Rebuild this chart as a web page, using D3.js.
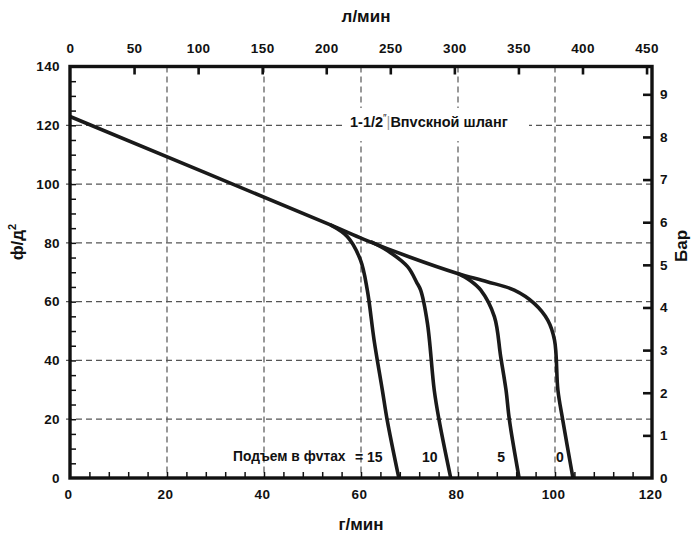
<!DOCTYPE html>
<html><head><meta charset="utf-8">
<script src="https://cdn.jsdelivr.net/npm/d3@7"></script>
<style>
body{margin:0;background:#fff}
svg text{font-family:"Liberation Sans",Arial,Helvetica,sans-serif;font-weight:bold;fill:#111}
</style>
</head><body><svg id="c" width="693" height="537"></svg>
<script>
// ---- data ----
const gpmTicks = [0, 20, 40, 60, 80, 100, 120];
const gpmMinorTicks = [4,8,12,16,20,24,28,32,36,40,44,48,52,56,60,64,68,72,76,80,84,88,92,96,100,104,108,112,116];
const psiTicks = [0, 20, 40, 60, 80, 100, 120, 140];
const psiMinorTicks = [5,10,15,20,25,30,35,40,45,50,55,60,65,70,75,80,85,90,95,100,105,110,115,120,125,130,135];
const lpmTicks = [0, 50, 100, 150, 200, 250, 300, 350, 400, 450];
const lpmMarks = [50, 100, 150, 200, 250, 300, 350, 400, 450];
const barTicks = [0, 1, 2, 3, 4, 5, 6, 7, 8, 9];
const gridGpm = [20, 40, 60, 80, 100];
const gridPsi = [20, 40, 60, 80, 100, 120];

// lift curves (gpm, psi)
const lift0Gpm  = [0, 53.7, 60.6, 70, 79.9, 86, 91.6, 95.7, 98.5, 99.9, 100.6, 101.6, 103.7];
const lift0Psi  = [123, 86.1, 81.2, 75.2, 69.6, 66.8, 63.9, 59.4, 53.7, 46.9, 29.9, 19.7, 0];
const lift15Gpm = [53.7, 57.2, 59.9, 61.3, 62.7, 64.4, 65.4, 67.8];
const lift15Psi = [86.1, 82.1, 74.1, 63.9, 46.9, 29.9, 19.7, 0];
const lift10Gpm = [62, 65.5, 69.6, 71.5, 72.3, 73.7, 75.1, 76.1, 78.5];
const lift10Psi = [80.4, 77.3, 71.9, 66.5, 63.9, 52.6, 29.9, 19.7, 0];
const lift5Gpm  = [79.9, 82.5, 84.7, 87.5, 88.8, 89.9, 90.6, 92.6];
const lift5Psi  = [69.6, 67.2, 63.9, 54.9, 41.3, 29.9, 19.7, 0];

const liftLabels = ["= 15", "10", "5", "0"];
const liftLabelGpm = [61.6, 74.2, 88.9, 101];

// ---- chart ----
const svg = d3.select("#c");
const L = 70, R = 652, T = 66.5, B = 478;
const x = d3.scaleLinear().domain([0, 120]).range([L, R]);
const y = d3.scaleLinear().domain([0, 140]).range([B, T]);
const xL = d3.scaleLinear().domain([0, 120 * 3.78541]).range([L, R]);
const yB = d3.scaleLinear().domain([0, 140 / 14.5038]).range([B, T]);

// grid
const grid = svg.append("g").attr("stroke", "#555").attr("stroke-width", 1.2).attr("stroke-dasharray", "6,4");
grid.selectAll("line.h").data(gridPsi).join("line").attr("class","h")
  .attr("x1", L - 4).attr("x2", R).attr("y1", d => y(d)).attr("y2", d => y(d));
grid.selectAll("line.v").data(gridGpm).join("line").attr("class","v")
  .attr("x1", d => x(d)).attr("x2", d => x(d)).attr("y1", T).attr("y2", B);

// white box behind hose label
svg.append("rect").attr("x", 343).attr("y", 108).attr("width", 186).attr("height", 33).attr("fill", "#fff");

// curves
const line = d3.line().x(d => x(d[0])).y(d => y(d[1])).curve(d3.curveCatmullRom.alpha(0.5));
const series = [
  d3.zip(lift0Gpm, lift0Psi),
  d3.zip(lift15Gpm, lift15Psi),
  d3.zip(lift10Gpm, lift10Psi),
  d3.zip(lift5Gpm, lift5Psi)
];
svg.append("g").selectAll("path").data(series).join("path")
  .attr("d", line).attr("fill", "none").attr("stroke", "#1a1a1a").attr("stroke-width", 3.6)
  .attr("stroke-linejoin", "round");

// axes
function styleAxis(g, fs) {
  g.select(".domain").remove();
  g.selectAll("text").attr("font-size", fs).attr("fill", "#111").attr("letter-spacing", 0.4)
    .style("font-family", '"Liberation Sans",Arial,sans-serif').style("font-weight", "bold");
}
// bottom
svg.append("g").attr("transform", `translate(0,${B})`)
  .call(d3.axisBottom(x).tickValues(gpmMinorTicks).tickSizeInner(-6).tickSizeOuter(0).tickFormat(""))
  .call(g => { g.select(".domain").remove(); g.selectAll("line").attr("stroke", "#111").attr("stroke-width", 1.5); });
svg.append("g").attr("transform", `translate(-2,${B})`)
  .call(d3.axisBottom(x).tickValues(gpmTicks).tickSize(0).tickPadding(11))
  .call(g => styleAxis(g, 13.5));
// left
svg.append("g").attr("transform", `translate(${L},0)`)
  .call(d3.axisLeft(y).tickValues(psiMinorTicks).tickSizeInner(-6).tickSizeOuter(0).tickFormat(""))
  .call(g => { g.select(".domain").remove(); g.selectAll("line").attr("stroke", "#111").attr("stroke-width", 1.5); });
svg.append("g").attr("transform", `translate(${L},0)`)
  .call(d3.axisLeft(y).tickValues(psiTicks).tickSize(0).tickPadding(10))
  .call(g => styleAxis(g, 13.5));
// top (l/min)
svg.append("g").attr("transform", `translate(0,${T})`)
  .call(d3.axisTop(xL).tickValues(lpmMarks).tickSizeInner(-8).tickSizeOuter(0).tickFormat(""))
  .call(g => { g.select(".domain").remove(); g.selectAll("line").attr("stroke", "#111").attr("stroke-width", 2.6); });
svg.append("g").attr("transform", `translate(0,${T})`)
  .call(d3.axisTop(xL).tickValues(lpmTicks).tickSize(0).tickPadding(14))
  .call(g => styleAxis(g, 13.5));
// right (bar)
svg.append("g").attr("transform", `translate(${R},0)`)
  .call(d3.axisRight(yB).tickValues(barTicks.slice(1)).tickSizeInner(-9).tickSizeOuter(0).tickFormat(""))
  .call(g => { g.select(".domain").remove(); g.selectAll("line").attr("stroke", "#111").attr("stroke-width", 2.6); });
svg.append("g").attr("transform", `translate(${R},0)`)
  .call(d3.axisRight(yB).tickValues(barTicks).tickSize(0).tickPadding(8))
  .call(g => styleAxis(g, 13.5));

// frame
svg.append("rect").attr("x", L).attr("y", T).attr("width", R - L).attr("height", B - T)
  .attr("fill", "none").attr("stroke", "#111").attr("stroke-width", 3.4);

// axis titles
svg.append("text").attr("x", 366).attr("y", 22).attr("text-anchor", "middle").attr("font-size", 17).text("л/мин");
svg.append("text").attr("x", 361).attr("y", 530).attr("text-anchor", "middle").attr("font-size", 17).text("г/мин");
const lt = svg.append("text").attr("transform", "translate(23,242) rotate(-90)").attr("text-anchor", "middle").attr("font-size", 17);
lt.append("tspan").text("ф/д");
lt.append("tspan").attr("dy", -7).attr("font-size", 11).text("2");
svg.append("text").attr("transform", "translate(687,246) rotate(-90)").attr("text-anchor", "middle").attr("font-size", 17).text("Бар");

// hose label
const hl = svg.append("text").attr("x", 350).attr("y", 127).attr("font-size", 14.5);
hl.append("tspan").text("1-1/2");
hl.append("tspan").attr("dy", -5).attr("font-size", 10).attr("font-weight", "normal").text("″");
hl.append("tspan").attr("dy", 5).attr("fill", "#999").attr("font-weight", "normal").text("|");
hl.append("tspan").text("Впvскной шланг");

// lift labels
svg.append("text").attr("x", 233).attr("y", 461).attr("font-size", 13.8).text("Подъем в фvтах");
svg.append("g").selectAll("text").data(liftLabels).join("text")
  .attr("x", (d, i) => x(liftLabelGpm[i])).attr("y", 462).attr("text-anchor", "middle")
  .attr("font-size", 14).attr("fill", "#222").text(d => d);
</script>
</body></html>
